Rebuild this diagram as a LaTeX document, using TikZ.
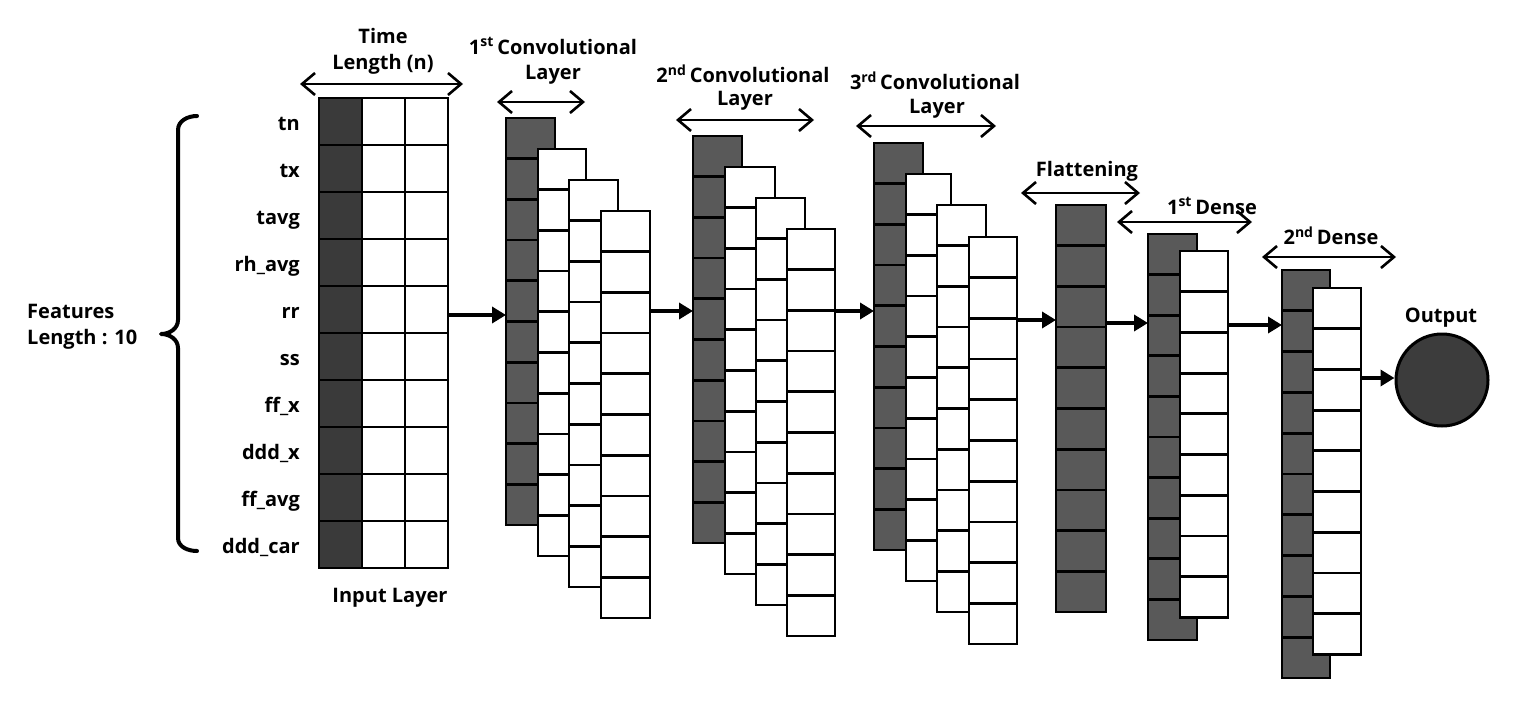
\documentclass[tikz,border=0pt]{standalone}
\usepackage{fontspec}
\setmainfont{Open Sans}
\usetikzlibrary{arrows.meta,calc}
\definecolor{darkin}{HTML}{3A3A3A}
\definecolor{darkcv}{HTML}{595959}
\definecolor{outfill}{HTML}{3C3C3C}
\tikzset{
  colbox/.style={draw=black, line width=2.8pt, inner sep=0pt, outer sep=0pt, anchor=north west},
  cellline/.style={draw=black, line width=2.8pt},
  solidarr/.style={line width=4pt, -{Triangle[length=14pt,width=16pt]}},
  dimarr/.style={line width=2.6pt, {Straight Barb[length=13pt,width=22pt]}-{Straight Barb[length=13pt,width=22pt]}},
  lbl/.style={font=\fontsize{20}{23}\selectfont\bfseries, inner sep=0pt},
  feat/.style={font=\fontsize{20}{23}\selectfont\bfseries, inner sep=0pt, anchor=base east},
}
\newcommand\stackcol[7]{% name, x, y, width, cell height, ncells, fill
  \node[colbox, fill=#7, minimum width=#4pt, minimum height={#6*#5}] (#1) at (#2,#3) {};
  \foreach \k in {2,...,#6}
    \draw[cellline] ($(#1.north west)!{(\k-1)/#6}!(#1.south west)$) -- ($(#1.north east)!{(\k-1)/#6}!(#1.south east)$);
}
\begin{document}
\begin{tikzpicture}[x=1pt,y=-1pt]
\useasboundingbox (0,0) rectangle (1516,707);
\fill[white] (0,0) rectangle (1516,707);

% Input layer
\stackcol{inpa}{319}{98}{43}{47}{10}{darkin}
\stackcol{inpb}{362}{98}{43}{47}{10}{white}
\stackcol{inpc}{405}{98}{43}{47}{10}{white}

% feature names
\foreach \t [count=\i from 0] in {tn,tx,tavg,rh\_avg,rr,ss,ff\_x,ddd\_x,ff\_avg,ddd\_car}
  \node[feat] (f\i) at (300,{98+47*\i+23.5+9}) {\t};

% brace
\draw[line width=4pt, line cap=round, line join=round]
  (197,116) to[out=180,in=90] (178,130) -- (178,320) to[out=-90,in=0] (161,334)
  to[out=0,in=90] (178,348) -- (178,538) to[out=-90,in=180] (197,551);
\node[lbl, anchor=west, align=left] (featlbl) at (27,327) {Features\\[3pt]Length : 10};

% Conv 1
\stackcol{ca1}{506}{118}{49}{40.7}{10}{darkcv}
\stackcol{ca2}{538}{149}{48}{40.7}{10}{white}
\stackcol{ca3}{569}{180}{49}{40.7}{10}{white}
\stackcol{ca4}{601}{211}{49}{40.7}{10}{white}

% Conv 2
\stackcol{cb1}{693}{136}{49}{40.7}{10}{darkcv}
\stackcol{cb2}{725}{167}{50}{40.7}{10}{white}
\stackcol{cb3}{756}{198}{49}{40.7}{10}{white}
\stackcol{cb4}{787}{229}{48}{40.7}{10}{white}

% Conv 3
\stackcol{cc1}{874}{143}{49}{40.7}{10}{darkcv}
\stackcol{cc2}{906}{174}{45}{40.7}{10}{white}
\stackcol{cc3}{937}{205}{49}{40.7}{10}{white}
\stackcol{cc4}{969}{237}{48}{40.7}{10}{white}

% Flatten
\stackcol{fl}{1056}{205}{50}{40.7}{10}{darkcv}

% Dense 1
\stackcol{da1}{1148}{234}{49}{40.6}{10}{darkcv}
\stackcol{da2}{1180}{251}{48}{40.7}{9}{white}

% Dense 2
\stackcol{db1}{1282}{270}{48}{40.8}{10}{darkcv}
\stackcol{db2}{1313}{288}{48}{40.7}{9}{white}

% Output
\node[circle, draw=black, line width=3pt, fill=outfill, minimum size=92pt, inner sep=0pt] (out) at (1442,380) {};
\node[lbl] (outlbl) at (1441,318) {Output};

% connectors
\draw[solidarr] (inpc.east |- 0,315) -- (ca1.west |- 0,315);
\draw[solidarr] (ca4.east |- 0,311) -- (cb1.west |- 0,311);
\draw[solidarr] (cb4.east |- 0,311) -- (cc1.west |- 0,311);
\draw[solidarr] (cc4.east |- 0,320) -- (fl.west |- 0,320);
\draw[solidarr] (fl.east |- 0,323) -- (da1.west |- 0,323);
\draw[solidarr] (da2.east |- 0,325) -- (db1.west |- 0,325);
\draw[solidarr] (db2.east |- 0,378) -- (out.west |- 0,378);

% dimension arrows
\coordinate (t1) at (300,84); \coordinate (t2) at (463,84);
\draw[dimarr] (t1) -- (t2);
\coordinate (a1) at (497,102); \coordinate (a2) at (585,102);
\draw[dimarr] (a1) -- (a2);
\coordinate (b1) at (676,120); \coordinate (b2) at (814,120);
\draw[dimarr] (b1) -- (b2);
\coordinate (c1) at (856,126); \coordinate (c2) at (996,126);
\draw[dimarr] (c1) -- (c2);
\coordinate (fa) at (1021,193); \coordinate (fb) at (1140,193);
\draw[dimarr] (fa) -- (fb);
\coordinate (d1) at (1117,222); \coordinate (d2) at (1252,222);
\draw[dimarr] (d1) -- (d2);
\coordinate (e1) at (1262,257); \coordinate (e2) at (1396,257);
\draw[dimarr] (e1) -- (e2);

% labels
\node[lbl] (ltime) at (383,36) {Time};
\node[lbl] (llen) at (383,64) {Length (n)};
\node[lbl] (l1a) at (553,46) {1\textsuperscript{st}\,Convolutional};
\node[lbl] (l1b) at (553,75) {Layer};
\node[lbl] (l2a) at (743,74) {2\textsuperscript{nd}\,Convolutional};
\node[lbl] (l2b) at (745,101) {Layer};
\node[lbl] (l3a) at (935,81) {3\textsuperscript{rd}\,Convolutional};
\node[lbl] (l3b) at (937,109) {Layer};
\node[lbl] (lfl) at (1087,171) {Flattening};
\node[lbl] (ld1) at (1212,206) {1\textsuperscript{st}\,Dense};
\node[lbl] (ld2) at (1331,236) {2\textsuperscript{nd}\,Dense};
\node[lbl] (linp) at (390,598) {Input Layer};
\end{tikzpicture}
\end{document}
